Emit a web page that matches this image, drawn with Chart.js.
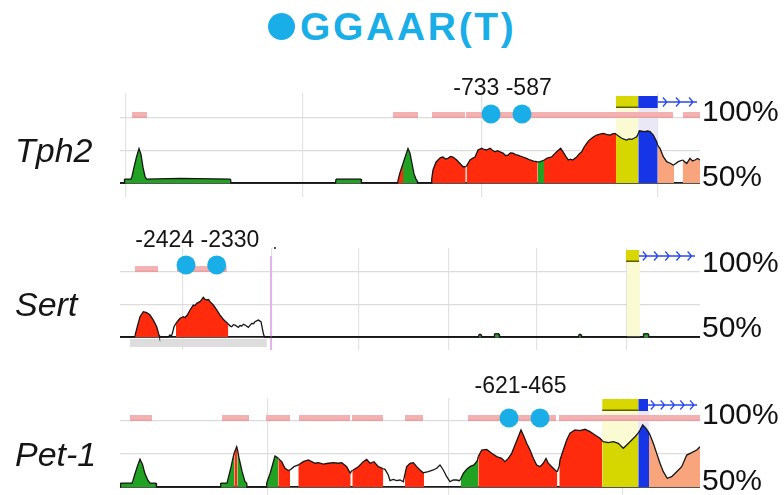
<!DOCTYPE html>
<html>
<head>
<meta charset="utf-8">
<script src="https://cdn.jsdelivr.net/npm/chart.js@4.4.1/dist/chart.umd.min.js"></script>
<style>
  html, body { margin: 0; padding: 0; background: #fff; }
  body { width: 784px; height: 495px; position: relative; overflow: hidden;
         font-family: "Liberation Sans", Arial, sans-serif; }
  canvas { position: absolute; left: 0; }
  #titleDot { position: absolute; left: 268px; top: 13px; width: 27px; height: 27px;
              border-radius: 50%; background: #1aaee8; }
  #titleText { position: absolute; left: 300px; top: 7px; line-height: 39px; font-size: 39px;
               font-weight: bold; color: #1aaee8; letter-spacing: 2.7px; white-space: nowrap; }
</style>
</head>
<body>
<div id="titleDot"></div>
<div id="titleText">GGAAR(T)</div>
<canvas id="tph2" width="784" height="145" style="top:60px"></canvas>
<canvas id="sert" width="784" height="140" style="top:215px"></canvas>
<canvas id="pet1" width="784" height="130" style="top:365px"></canvas>
<script>
// ---------- Tph2 ----------
// conservation profile: [position, % identity]
const tph2Profile = [[0,50],[4,50],[4.5,53],[11,53],[12,55],[14,62],[16.5,70],[19,76.5],[21,72],[23,62],[25,55],[26.5,53],[60,53.5],[110.5,53],[111,50],[215.5,50],[216,53],[241,53],[241.5,50],[277.5,50],[278,52],[280,58],[283,65],[286,72],[288,76.5],[290,73],[292,65],[294,57],[296,53],[297,52],[297.5,50],[311,50],[311.7,53],[313,60],[316,66],[318,67.7],[320.5,69.5],[323,70],[325.5,68.5],[328,69],[330.5,70.5],[333,70],[336.7,67.7],[340,65],[343,62.5],[345.7,62.5],[346.5,63],[350,67.7],[352.5,69],[355,70],[358,75.4],[361.7,76.7],[364,75.8],[366.7,75.4],[370,76.7],[372.5,75.2],[375,74],[377.5,74.8],[380,74],[383,73],[385.5,71.2],[388,71.5],[390.5,73.2],[393,73],[395.5,71.8],[398,71.5],[400.5,70.6],[403,70],[406.5,69],[410,67.7],[413.5,66.8],[416.7,66.4],[417.7,66],[420,66.5],[424,67.5],[426.7,69],[429,69.6],[431.7,70],[434,72],[436.7,74],[440.7,76.7],[444,72.8],[446,70.2],[448.3,67.7],[450.5,68.3],[452.7,67.7],[456.7,70],[459,72.2],[461.7,74],[464,77.5],[466.7,80.5],[469,82.8],[471.7,84.4],[474,85.8],[476.7,86.9],[480,87.6],[483.3,88.2],[486.5,87.4],[490,86.9],[492.5,87.8],[495,88.2],[496,87.5],[498.5,86.1],[501.7,84.4],[504,83.7],[506.7,83],[509,83.9],[511.7,83.6],[514,84.4],[516.7,85.6],[518.3,88],[519.3,90.2],[522,89.8],[525,89.5],[527.5,90],[530,89.5],[533.3,86.9],[536.7,81.8],[537.7,79],[540,76.7],[543.3,70.2],[546.7,66.4],[550.7,65],[553.3,63.8],[554,64],[558.3,66.4],[562.7,67.7],[566.7,65],[570,69],[572.5,67],[575,67.7],[577.5,68.8],[580,67.7]];
const tph2Cns    = [[278,283],[311.7,345.7],[346.5,417.7],[424,496]];
const tph2Repeat = [[4.5,110.5],[216,241],[283,297],[417.7,424]];
const tph2Utr    = [[496,518.3]];
const tph2Exon   = [[518.3,537.7]];
const tph2Intron = [[537.7,554],[562.7,580]];
const tph2Track  = [[12,27],[273,298],[312,345],[346,553],[563,580]];
const tph2MotifPos    = [371, 402];
const tph2MotifLabels = ['-733', '-587'];
const tph2Ticks  = [6, 183, 362, 538];

// ---------- Sert ----------
const sertProfile = [[0,50],[14.5,50],[15,51],[17.3,57.9],[20,65.6],[23.3,69.5],[26.7,68.7],[30,66.9],[33.3,63],[36.7,57.9],[39,51.5],[39.5,50],[48.3,50],[50,51.5],[51.3,50.5],[52.5,53],[54,57.9],[56,60.5],[58,62.5],[60,64.4],[63.3,65.6],[65,65],[67.3,66.9],[70,70.8],[73.3,74.6],[75,74.2],[76.7,75.9],[80,77.2],[81.5,78.5],[83.3,80.5],[85,79],[86.7,78.5],[88.5,78.8],[90,77.2],[93.3,74.6],[96.7,70.8],[100,66.9],[104,63],[107.7,60.5],[108.3,60],[110,58.5],[111.7,57.9],[113.5,59.5],[115,59.2],[118.3,57.4],[120,58.8],[121.7,58.5],[123.5,59.8],[125,59.2],[128.3,57.4],[130,59],[131.7,60.5],[133.5,60.2],[135,61.8],[138.3,63],[141,61.8],[143.3,52.8],[144.5,50],[358.5,50],[359,52],[361,52],[361.5,50],[374,50],[374.5,52.5],[379,52.5],[379.5,50],[458.5,50],[459,52],[461,52],[461.5,50],[523,50],[523.5,52.5],[528.5,52.5],[529,50],[580,50]];
const sertCns    = [[15,39.5],[56,108.3]];
const sertRepeat = [[359,361],[374.5,379],[459,461],[523.5,528.5]];
const sertUtr    = [[507,520]];
const sertTrack  = [[15,38],[57,106.7]];
const sertLowTrack = [[10,146.7]];
const sertMarker = 151;
const sertMotifPos    = [66, 96.7];
const sertMotifLabels = ['-2424', '-2330'];
const sertTicks  = [63, 152, 239, 329, 417, 507];

// ---------- Pet-1 ----------
const pet1Profile = [[0,50],[0.5,53],[12,53],[13,55],[15,60],[17.5,66],[20,71],[22.5,67],[25,60],[28,55],[30,53],[36,53],[36.5,50],[100,50],[100.7,53],[107,53],[108,56],[111,65],[113,72],[114.3,76],[116.7,80.5],[117.3,79],[119,72],[122,62],[125,54],[126.7,53],[127,50],[146,50],[146.7,53],[150,60],[153,68],[155,73.5],[157,72.5],[158.3,71.7],[161.7,69.2],[165,64.2],[168.3,62.4],[170,62.9],[174,65.4],[178.3,66.7],[183.3,69.2],[188.3,70.5],[191.7,69.2],[195,68],[198.3,68.4],[203.3,67.4],[208.3,68],[213.3,68.4],[218.3,68],[221.7,68.4],[226.7,65.4],[230,60.8],[230.7,61.5],[232.3,62.5],[233.3,62.9],[238.3,65.4],[243.3,69.2],[246.7,71],[250,68],[254,69.2],[258.3,65.4],[262.3,64.2],[263.3,63.8],[265,63.4],[268.3,59.1],[270,54.8],[273.3,55.8],[276.7,54.8],[280,55.3],[283.3,54],[285,60],[286.7,65.4],[290,68],[293.3,68.4],[296.7,65.4],[300,62.9],[303.3,60.8],[304,60.8],[308.3,61.6],[313.3,62.9],[316.7,64.2],[320,66.7],[323.3,62.9],[326.7,57.8],[330,54],[333.3,55.3],[336.7,55.3],[339.3,54.8],[340.7,56],[343.3,60.4],[346.7,63.4],[350,65.4],[354,66.7],[357.3,70],[358.3,73],[361.7,78],[366.7,78.5],[371.7,75.5],[376.7,73],[381.7,71.7],[385,69.2],[388.3,71.7],[391.7,75.5],[395,81.8],[398.3,88.1],[401,93.2],[403.3,89.4],[406.7,83.1],[410,78],[413.3,71.7],[416.7,66.7],[420,65.4],[423.3,68],[426,71.7],[428.3,68],[431.7,65.4],[435,62.9],[437.3,61.6],[439.3,66],[440,70.5],[443.3,78],[446.7,85.6],[450,90.7],[455,93.2],[460,92.7],[465,93.7],[470,91.9],[475,89.4],[480,86.9],[482.3,85],[483.3,84.3],[488.3,83.6],[493.3,84.3],[498.3,83.1],[503.3,79.3],[506.7,81.8],[510,84.3],[515,88.1],[518.3,91],[520,93.2],[522.7,97],[526,94.4],[529,91],[530,89.4],[533.3,83.1],[536.7,75.5],[540,68],[543.3,61.6],[547.3,56.6],[551.7,57.8],[556.7,61.6],[561.7,65.4],[566.7,74.2],[571.7,76],[576.7,78],[580,80.5]];
const pet1Cns    = [[114.3,117.3],[158.3,170],[178.3,230.7],[232.3,263.3],[285,304],[358.3,437.3],[439.3,482.3]];
const pet1Repeat = [[0.5,36],[100.7,126.7],[146.7,158.3],[340.7,358.3]];
const pet1Utr    = [[482.3,518.3]];
const pet1Exon   = [[518.3,529]];
const pet1Intron = [[529,580]];
const pet1Track  = [[10,32],[102,129],[146,170],[179,230],[232,263],[285,303],[348,436],[439,580]];
const pet1MotifPos    = [389, 420];
const pet1MotifLabels = ['-621', '-465'];
const pet1Ticks  = [148, 329, 503];

// ---------- drawing ----------
Chart.defaults.font.family = '"Liberation Sans", Arial, sans-serif';

const FILL = { cns: '#ff2b0c', repeat: '#22a222', utr: '#d6d600', exon: '#1535e6', intron: '#f8a47d' };
const BAND = { utr: '#fbfbd3', exon: '#e8e8f7' };

function colorAt(regions, x) {
  for (const type of ['cns', 'utr', 'exon', 'intron', 'repeat']) {
    for (const [a, b] of (regions[type] || [])) {
      if (x >= a && x <= b) return FILL[type];
    }
  }
  return 'rgba(0,0,0,0)';
}

function noPadding(s) {
  s.paddingTop = 0; s.paddingBottom = 0; s.paddingLeft = 0; s.paddingRight = 0;
}

function panelDecor(p) {
  return {
    id: 'panelDecor',
    beforeDatasetsDraw(chart) {
      const { ctx, chartArea: a, scales: { x, y } } = chart;
      const px = v => x.getPixelForValue(v);
      const y100 = y.getPixelForValue(100), y50 = y.getPixelForValue(50);
      ctx.save();
      // light shading below the first exon
      (p.bands || []).forEach(([s, e, t]) => {
        ctx.fillStyle = BAND[t];
        ctx.fillRect(px(s), y100 - 10, px(e) - px(s), y50 - (y100 - 10));
      });
      // grey track under the baseline
      (p.lowTrack || []).forEach(([s, e]) => {
        ctx.fillStyle = '#dddddd';
        ctx.fillRect(px(s), y50 + 2, px(e) - px(s), 8);
      });
      // vertical marker
      if (p.marker != null) {
        ctx.strokeStyle = '#e2b4ec';
        ctx.lineWidth = 2;
        ctx.beginPath();
        ctx.moveTo(px(p.marker), y100 - 16);
        ctx.lineTo(px(p.marker), a.bottom);
        ctx.stroke();
        ctx.fillStyle = '#555';
        ctx.fillRect(px(p.marker) + 3, y100 - 25, 2, 2);
      }
      // conserved-region track
      ctx.fillStyle = '#f4b1b1';
      p.track.forEach(([s, e]) => ctx.fillRect(px(s), y100 - 6, px(e) - px(s), 6));
      ctx.fillStyle = '#eba1a1';
      p.track.forEach(([s, e]) => ctx.fillRect(px(s), y100 - 1.5, px(e) - px(s), 1.5));
      ctx.restore();
    },
    afterDatasetsDraw(chart) {
      const { ctx, scales: { x, y } } = chart;
      const px = v => x.getPixelForValue(v);
      const y100 = y.getPixelForValue(100), y50 = y.getPixelForValue(50);
      const top = y100 - 22, h = 12, mid = y100 - 16;
      ctx.save();
      // transcript start: arrow line with chevrons
      if (p.arrow) {
        const [s, e, n] = p.arrow;
        ctx.strokeStyle = '#2a48f0';
        ctx.lineWidth = 1.3;
        ctx.beginPath();
        ctx.moveTo(px(s), mid);
        ctx.lineTo(px(e), mid);
        for (let i = 0; i < n; i++) {
          const cx = px(s + (i + 0.7) * (e - s) / n);
          ctx.moveTo(cx - 4, mid - 4.5);
          ctx.lineTo(cx, mid);
          ctx.lineTo(cx - 4, mid + 4.5);
        }
        ctx.stroke();
      }
      if (p.utrBox) {
        const [s, e] = p.utrBox;
        ctx.fillStyle = '#d8d800';
        ctx.fillRect(px(s), top, px(e) - px(s), h);
        ctx.strokeStyle = '#5e5e00';
        ctx.lineWidth = 1.5;
        ctx.beginPath();
        ctx.moveTo(px(s), top + h - 0.75);
        ctx.lineTo(px(e), top + h - 0.75);
        ctx.stroke();
      }
      if (p.exonBox) {
        const [s, e] = p.exonBox;
        ctx.fillStyle = '#1535e6';
        ctx.fillRect(px(s), top, px(e) - px(s), h);
      }
      // motif positions
      ctx.fillStyle = '#151515';
      ctx.font = '23px "Liberation Sans", Arial, sans-serif';
      ctx.textAlign = 'center';
      ctx.textBaseline = 'alphabetic';
      const mx = p.motifPos.reduce((t, v) => t + px(v), 0) / p.motifPos.length - 4;
      ctx.fillText(p.motifLabels.join(p.motifSep), mx, y100 - p.labelLift);
      // gene name
      ctx.font = 'italic 34px "Liberation Sans", Arial, sans-serif';
      ctx.textAlign = 'left';
      ctx.fillText(p.name, 15, y50 - 21);
      ctx.restore();
    }
  };
}

function buildPanel(id, p) {
  const regions = p.regions;
  new Chart(document.getElementById(id), {
    type: 'line',
    data: {
      datasets: [
        {
          type: 'scatter',
          data: p.motifPos.map(v => ({ x: v, y: p.motifLevel })),
          pointRadius: 9.5, pointHoverRadius: 9.5,
          backgroundColor: '#1aaee8', borderWidth: 0, order: 0
        },
        {
          data: p.profile.map(([px, v]) => ({ x: px, y: v })),
          borderColor: '#161616', borderWidth: 1.3, pointRadius: 0,
          tension: 0, backgroundColor: 'rgba(0,0,0,0)',
          fill: { value: 50 }, order: 1,
          segment: {
            backgroundColor: c => colorAt(regions, (c.p0.parsed.x + c.p1.parsed.x) / 2)
          }
        }
      ]
    },
    options: {
      responsive: false, animation: false, events: [],
      layout: { padding: { left: 120, right: 0, top: p.padTop, bottom: p.padBottom }, autoPadding: false },
      plugins: { legend: { display: false }, tooltip: { enabled: false } },
      scales: {
        x: {
          type: 'linear', min: 0, max: 580,
          afterBuildTicks: s => { s.ticks = p.ticks.map(v => ({ value: v })); },
          ticks: { display: false },
          grid: { color: '#e3e3e3', lineWidth: 1.2, drawTicks: false },
          border: { display: false },
          afterFit: s => { s.height = 0; noPadding(s); }
        },
        y: {
          position: 'right', min: p.yMin, max: p.yMax,
          afterBuildTicks: s => { s.ticks = [50, 75, 100].map(v => ({ value: v })); },
          ticks: {
            callback: v => (v === 75 ? '' : v + '%'),
            font: { size: 30 }, color: '#111', padding: 2, labelOffset: p.labelShift
          },
          grid: {
            drawTicks: false,
            color: c => (c.tick && c.tick.value === 50 ? '#1b1b1b' : '#dcdcdc'),
            lineWidth: c => (c.tick && c.tick.value === 50 ? 1.8 : 1.2)
          },
          border: { display: false },
          afterFit: s => { s.width = 84; noPadding(s); }
        }
      }
    },
    plugins: [panelDecor(p)]
  });
}

buildPanel('tph2', {
  name: 'Tph2', profile: tph2Profile,
  regions: { cns: tph2Cns, repeat: tph2Repeat, utr: tph2Utr, exon: tph2Exon, intron: tph2Intron },
  track: tph2Track, ticks: tph2Ticks,
  motifPos: tph2MotifPos, motifLabels: tph2MotifLabels, motifSep: ' ', motifLevel: 103.1, labelLift: 23,
  bands: [[tph2Utr[0][0], tph2Utr[0][1], 'utr'], [tph2Exon[0][0], tph2Exon[0][1], 'exon']],
  utrBox: tph2Utr[0], exonBox: tph2Exon[0], arrow: [537.7, 577, 3],
  padTop: 33, padBottom: 8, yMin: 39.23, yMax: 119.23, labelShift: -5
});

buildPanel('sert', {
  name: 'Sert', profile: sertProfile,
  regions: { cns: sertCns, repeat: sertRepeat },
  track: sertTrack, ticks: sertTicks, lowTrack: sertLowTrack, marker: sertMarker,
  motifPos: sertMotifPos, motifLabels: sertMotifLabels, motifSep: ' ', motifLevel: 105.4, labelLift: 25,
  bands: [[sertUtr[0][0], sertUtr[0][1], 'utr']],
  utrBox: [506, 519], exonBox: null, arrow: [519, 575, 5],
  padTop: 33, padBottom: 5, yMin: 40, yMax: 118.46, labelShift: -8
});

buildPanel('pet1', {
  name: 'Pet-1', profile: pet1Profile,
  regions: { cns: pet1Cns, repeat: pet1Repeat, utr: pet1Utr, exon: pet1Exon, intron: pet1Intron },
  track: pet1Track, ticks: pet1Ticks,
  motifPos: pet1MotifPos, motifLabels: pet1MotifLabels, motifSep: '', motifLevel: 102.3, labelLift: 28,
  bands: [[pet1Utr[0][0], pet1Utr[0][1], 'utr'], [pet1Exon[0][0], pet1Exon[0][1], 'exon']],
  utrBox: [482.3, 518.5], exonBox: [518.5, 528], arrow: [528, 577, 5],
  padTop: 33, padBottom: 0, yMin: 43.94, yMax: 117.42, labelShift: -5
});
</script>
</body>
</html>
